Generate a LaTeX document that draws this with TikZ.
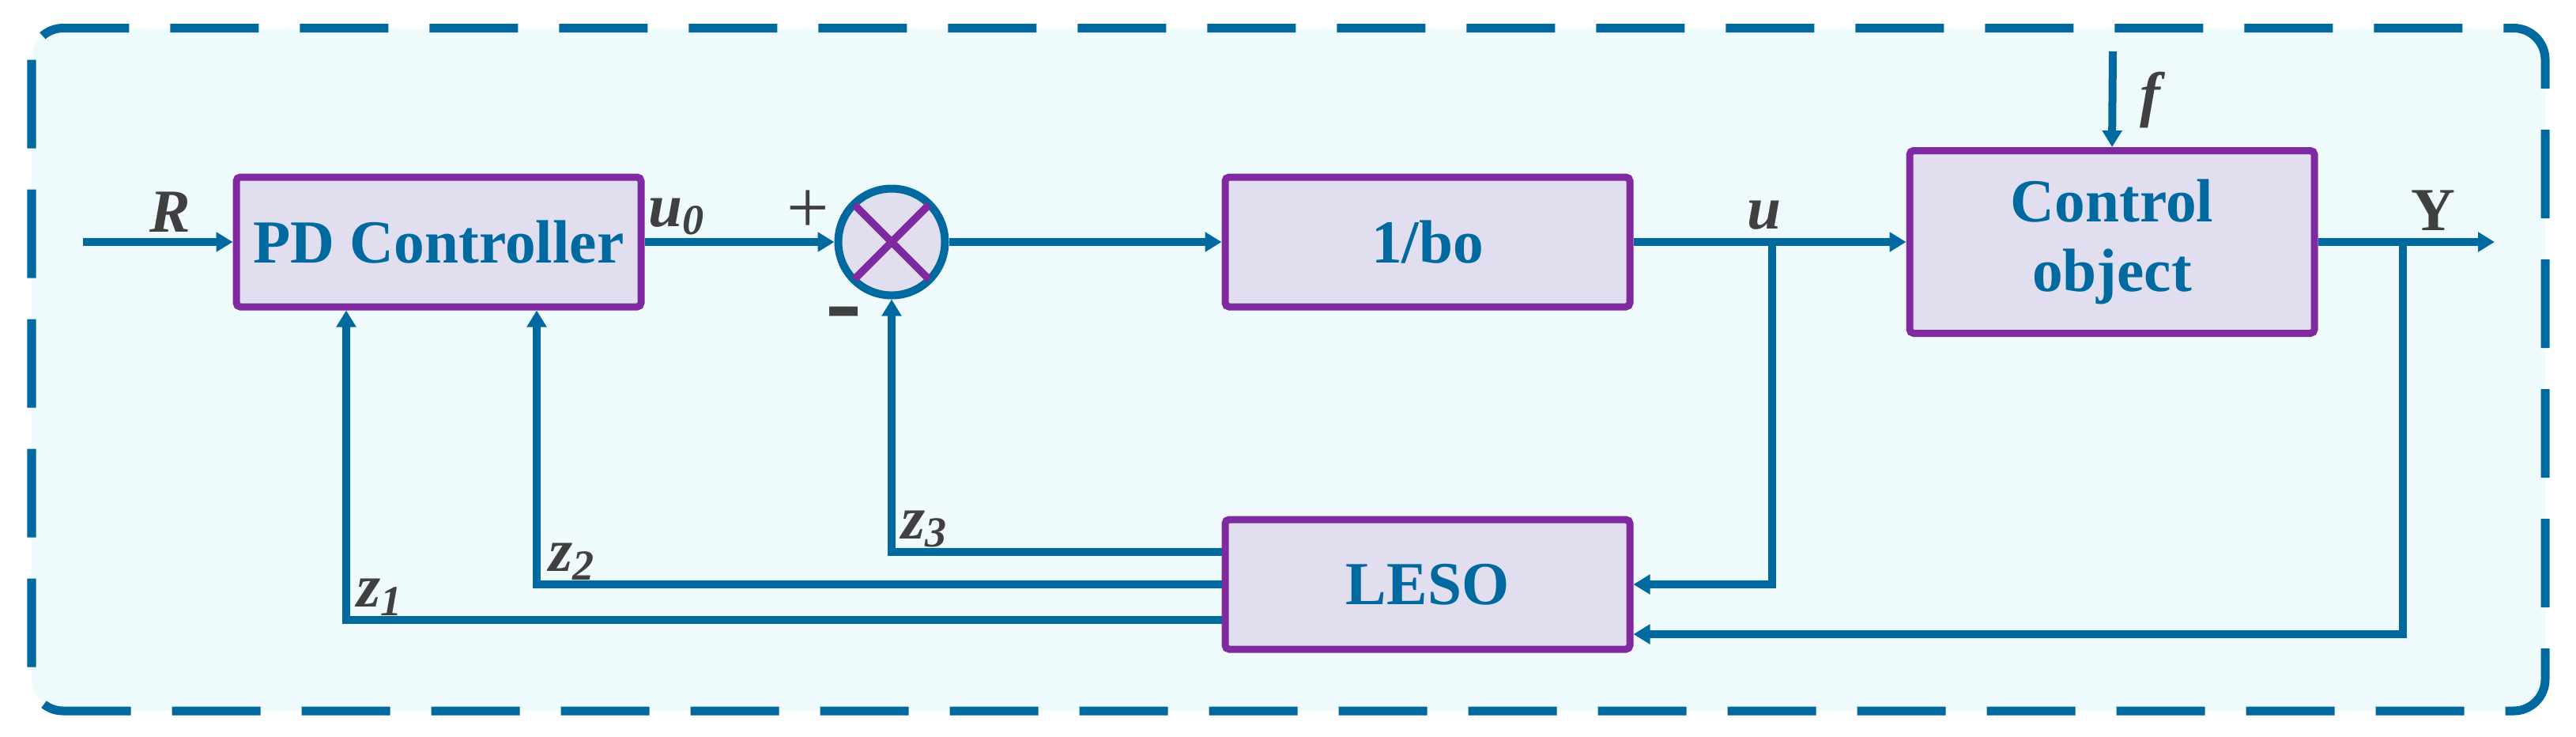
\documentclass[tikz,border=0pt]{standalone}
\usepackage{fontspec}
\setmainfont{Liberation Serif}
\usetikzlibrary{arrows.meta, positioning}
\definecolor{lineblue}{HTML}{00699F}
\definecolor{boxpurple}{HTML}{7F2A9F}
\definecolor{boxfill}{HTML}{E1DEF0}
\definecolor{bgfill}{HTML}{EFFAFD}
\definecolor{txtgray}{HTML}{404040}

\begin{document}
\begin{tikzpicture}[
        blk/.style={rectangle, draw=boxpurple, fill=boxfill, line width=0.9mm, rounded corners=0.5mm, minimum width=5.12cm, minimum height=1.64cm, align=center, text=lineblue, font=\fontsize{22}{25}\selectfont\bfseries},
        sumnode/.style={circle, draw=lineblue, fill=boxfill, line width=1mm, minimum size=1.35cm, inner sep=0pt},
        lbl/.style={text=txtgray, font=\fontsize{22}{25}\selectfont\bfseries\itshape, inner sep=0pt},
        sign/.style={text=txtgray, font=\fontsize{27}{30}\selectfont, inner sep=0pt},
        line/.style={draw=lineblue, line width=1mm},
        arr/.style={line, -{Triangle[length=2.1mm, width=2.4mm]}},
        node distance=2.4cm
        ]
        \useasboundingbox (0,0) rectangle (32.59,-9.31);
        \path[draw=lineblue, fill=bgfill, line width=1.1mm, dash pattern=on 11.2mm off 5.2mm, rounded corners=4mm] (0.40,-0.355) rectangle (32.20,-8.99);

        \node[blk] (pd) at (5.55,-3.06) {PD Controller};
        \node[sumnode, right=of pd] (sum) {};
        \node[blk, right=3.45cm of sum] (gain) {1/bo};
        \node[blk, right=3.45cm of gain, minimum height=2.31cm] (plant) {Control\\object};
        \node[blk, below=2.6cm of gain] (leso) {LESO};
        \draw[draw=boxpurple, line width=0.95mm] (sum.center) +(135:0.665) -- +(-45:0.665)
              (sum.center) +(45:0.665) -- +(-135:0.665);

        \coordinate (rin) at (1.05,-3.06);
        \coordinate (fin) at (26.73,-0.65);
        \coordinate (ub) at (22.42,-3.06);
        \coordinate (yb) at (30.40,-3.06);
        \coordinate (yout) at (31.56,-3.06);

        \draw[arr] (rin) -- (pd);
        \draw[arr] (pd) -- (sum);
        \draw[arr] (sum) -- (gain);
        \draw[arr] (gain) -- (plant);
        \draw[arr] (plant) -- (yout);
        \draw[arr] (fin) -- (plant.north);
        \draw[arr] (ub) |- (leso.east);
        \draw[arr] (yb) |- ([yshift=-0.63cm]leso.east);
        \draw[arr] ([yshift=0.41cm]leso.west) -| (sum.south);
        \draw[arr] (leso.west) -| ([xshift=1.24cm]pd.south);
        \draw[arr] ([yshift=-0.45cm]leso.west) -| ([xshift=-1.17cm]pd.south);

        \node[lbl] (rlab) at (2.15,-2.68) {R};
        \node[lbl] (u0lab) at (8.56,-2.74) {u\textsubscript{0}};
        \node[sign] (plus) at (10.22,-2.68) {+};
        \node[sign, font=\fontsize{22}{25}\selectfont] (minus) at (10.68,-4.19) {\bfseries\scalebox{1}[2.2]{−}};
        \node[lbl] (ulab) at (22.32,-2.72) {u};
        \node[lbl] (ylab) at (30.78,-2.66) {\upshape Y};
        \node[lbl] (flab) at (27.20,-1.26) {f};
        \node[lbl] (z1lab) at (4.81,-7.55) {z\textsubscript{1}};
        \node[lbl] (z2lab) at (7.24,-7.10) {z\textsubscript{2}};
        \node[lbl] (z3lab) at (11.70,-6.69) {z\textsubscript{3}};
    \end{tikzpicture}
\end{document}
